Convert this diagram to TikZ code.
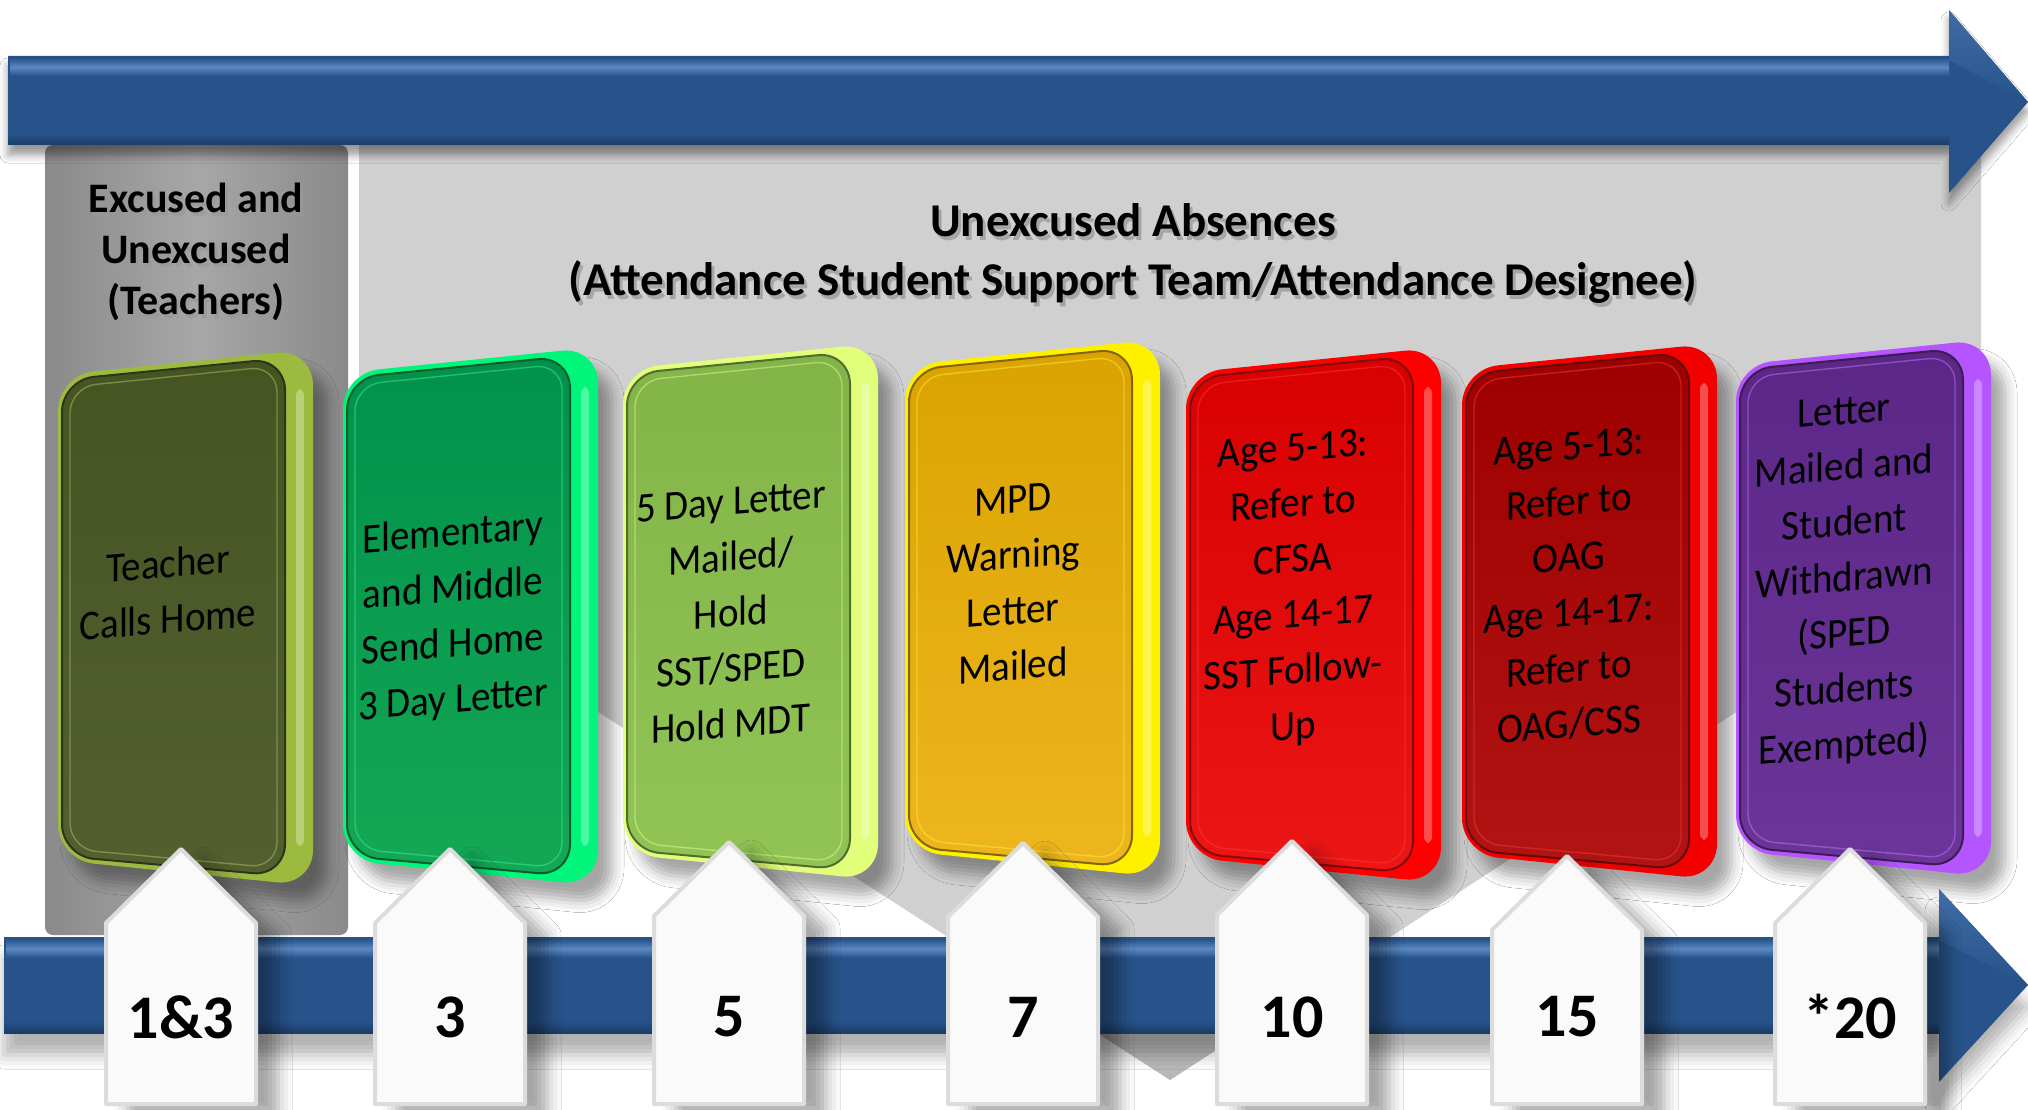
\documentclass[tikz,border=0pt]{standalone}
\usepackage{fontspec}
\setmainfont{Carlito}
\usetikzlibrary{shadows.blur}

\definecolor{arrowblue}{HTML}{27538A}
\definecolor{arrowhi}{HTML}{5B88C2}
\definecolor{arrowdk}{HTML}{1B3C66}
\definecolor{pandk}{HTML}{8A8A8A}
\definecolor{panmid}{HTML}{A7A7A7}
\definecolor{panlight}{HTML}{D0D0D0}
\definecolor{tabfill}{HTML}{FAFAFA}
\definecolor{tabline}{HTML}{DCDCDC}
% card colours
\definecolor{eA}{HTML}{9CBB3E}\definecolor{fAa}{HTML}{465422}\definecolor{fAb}{HTML}{535F2F}
\definecolor{eB}{HTML}{00F57A}\definecolor{fBa}{HTML}{00924A}\definecolor{fBb}{HTML}{14A755}
\definecolor{eC}{HTML}{E2FF7C}\definecolor{fCa}{HTML}{82B448}\definecolor{fCb}{HTML}{91C455}
\definecolor{eD}{HTML}{FFF000}\definecolor{fDa}{HTML}{DAA300}\definecolor{fDb}{HTML}{EEB61E}
\definecolor{eE}{HTML}{FF0000}\definecolor{fEa}{HTML}{D80000}\definecolor{fEb}{HTML}{EC1616}
\definecolor{eF}{HTML}{F20000}\definecolor{fFa}{HTML}{9E0000}\definecolor{fFb}{HTML}{B21414}
\definecolor{eG}{HTML}{B455FF}\definecolor{fGa}{HTML}{5B2787}\definecolor{fGb}{HTML}{6B3599}

\tikzset{
  cardtxt/.style={align=center, font=\fontsize{39}{51.5}\selectfont, text=black,
                  inner sep=0pt, yslant=0.08, yscale=1.08},
  hdrL/.style={align=center, font=\bfseries\fontsize{42}{51}\selectfont, inner sep=0pt, text=black},
  hdrR/.style={align=center, font=\bfseries\fontsize{47}{59}\selectfont, inner sep=0pt, text=black},
  txtshadow/.style={text=black!40, opacity=0.75},
  numtxt/.style={font=\bfseries\fontsize{62}{70}\selectfont, inner sep=0pt, text=black},
  tabshape/.style={fill=tabfill, draw=tabline, line width=4pt, line join=round,
                   blur shadow={shadow xshift=22pt, shadow yshift=-12pt, shadow blur radius=14pt, shadow opacity=35}},
}

\newcommand{\drawcard}[6]{%
  \pgfmathsetmacro{\cR}{#1+255}%
  \fill[#4, rounded corners=36pt,
        blur shadow={shadow xshift=14pt, shadow yshift=-18pt, shadow blur radius=12pt, shadow opacity=35}]
     (#1,#2+26) -- (\cR,#2) -- (\cR,#3) -- (#1,#3-26) -- cycle;
  \fill[white, opacity=0.3, rounded corners=6pt] (\cR-17,#2+40) rectangle (\cR-9,#3-40);
  \shadedraw[top color=#5, bottom color=#6, draw=#6!55!black, line width=2pt, rounded corners=32pt]
     (#1+4,#2+31) -- (\cR-28,#2+9) -- (\cR-28,#3-10) -- (#1+4,#3-30) -- cycle;
  \draw[#4!75!white, line width=1.4pt, opacity=0.45, rounded corners=26pt]
     (#1+12,#2+38) -- (\cR-36,#2+17) -- (\cR-36,#3-18) -- (#1+12,#3-37) -- cycle;
}

\newcommand{\drawtab}[2]{% centre x, tip y
  \draw[tabshape] (#1-75,1104) -- (#1-75,#2+74) -- (#1,#2) -- (#1+75,#2+74) -- (#1+75,1104) -- cycle;
}

\begin{document}
\begin{tikzpicture}[x=1pt,y=-1pt]
\useasboundingbox (0,0) rectangle (2028,1110);
\fill[white] (0,0) rectangle (2028,1110);

% ---- panels ----
\shade[left color=pandk, right color=pandk, middle color=panmid, rounded corners=8pt]
   (45,145) rectangle (348,935);
\fill[panlight] (359,145) -- (1981,145) -- (1981,553) -- (1170,1080) -- (359,558) -- cycle;
\shade[top color=panlight, bottom color=black!35, opacity=0.6]
   (1000,969) -- (1340,969) -- (1170,1080) -- cycle;

% ---- top arrow ----
\fill[arrowblue, blur shadow={shadow xshift=0pt, shadow yshift=-10pt, shadow blur radius=8pt, shadow opacity=40}]
   (8,56) -- (1949,56) -- (1949,10) -- (2028,102) -- (1949,193) -- (1949,145) -- (8,145) -- cycle;
\shade[top color=arrowblue, bottom color=arrowblue, middle color=arrowhi] (10,58) rectangle (1949,76);
\shade[top color=arrowblue, bottom color=arrowdk] (8,134) rectangle (1949,145);
\shade[top color=arrowhi, bottom color=arrowblue, opacity=0.5] (1949,10) -- (2028,102) -- (1949,60) -- cycle;

% ---- headers ----
\node[hdrL, txtshadow] (hLs) at (199,256) {Excused and\\Unexcused\\(Teachers)};
\node[hdrL] (hL) at (196,252) {Excused and\\Unexcused\\(Teachers)};
\node[hdrR, txtshadow] (hRs) at (1136,257) {Unexcused Absences\\(Attendance Student Support Team/Attendance Designee)};
\node[hdrR] (hR) at (1133,253) {Unexcused Absences\\(Attendance Student Support Team/Attendance Designee)};

% ---- cards ----
\drawcard{58}{349}{886}{eA}{fAa}{fAb}
\drawcard{343}{347}{886}{eB}{fBa}{fBb}
\drawcard{623}{343}{880}{eC}{fCa}{fCb}
\drawcard{905}{339}{877}{eD}{fDa}{fDb}
\drawcard{1186}{347}{883}{eE}{fEa}{fEb}
\drawcard{1462}{343}{880}{eF}{fFa}{fFb}
\drawcard{1736}{339}{877}{eG}{fGa}{fGb}

\node[cardtxt] (c1) at (168,591) {Teacher\\Calls Home};
\node[cardtxt] (c2) at (453,618) {Elementary\\and Middle\\Send Home\\3 Day Letter};
\node[cardtxt] (c3) at (731,613) {5 Day Letter\\Mailed/\\Hold\\SST/SPED\\Hold MDT};
\node[cardtxt] (c4) at (1013,583) {MPD\\Warning\\Letter\\Mailed};
\node[cardtxt] (c5) at (1293,590) {Age 5-13:\\Refer to\\CFSA\\Age 14-17\\SST Follow-\\Up};
\node[cardtxt] (c6) at (1569,586) {Age 5-13:\\Refer to\\OAG\\Age 14-17:\\Refer to\\OAG/CSS};
\node[cardtxt] (c7) at (1844,581) {Letter\\Mailed and\\Student\\Withdrawn\\(SPED\\Students\\Exempted)};

% ---- bottom arrow ----
\fill[arrowblue, blur shadow={shadow xshift=0pt, shadow yshift=-22pt, shadow blur radius=14pt, shadow opacity=30}]
   (4,937) -- (1939,937) -- (1939,889) -- (2028,985) -- (1939,1082) -- (1939,1033) -- (4,1033) -- cycle;
\shade[top color=arrowblue, bottom color=arrowblue, middle color=arrowhi] (6,939) rectangle (1939,958);
\shade[top color=arrowblue, bottom color=arrowdk] (4,1021) rectangle (1939,1033);
\shade[top color=arrowhi, bottom color=arrowblue, opacity=0.5] (1939,889) -- (2028,985) -- (1939,940) -- cycle;

% ---- tabs ----
\drawtab{181}{849}
\drawtab{450}{849}
\drawtab{729}{842}
\drawtab{1023}{843}
\drawtab{1292}{841}
\drawtab{1567}{856}
\drawtab{1850}{849}

\node[numtxt] (n1) at (181,1017) {1\&3};
\node[numtxt] (n2) at (450,1017) {3};
\node[numtxt] (n3) at (729,1017) {5};
\node[numtxt] (n4) at (1023,1017) {7};
\node[numtxt] (n5) at (1292,1017) {10};
\node[numtxt] (n6) at (1567,1017) {15};
\node[numtxt] (n7) at (1850,1017) {*20};
\end{tikzpicture}
\end{document}
